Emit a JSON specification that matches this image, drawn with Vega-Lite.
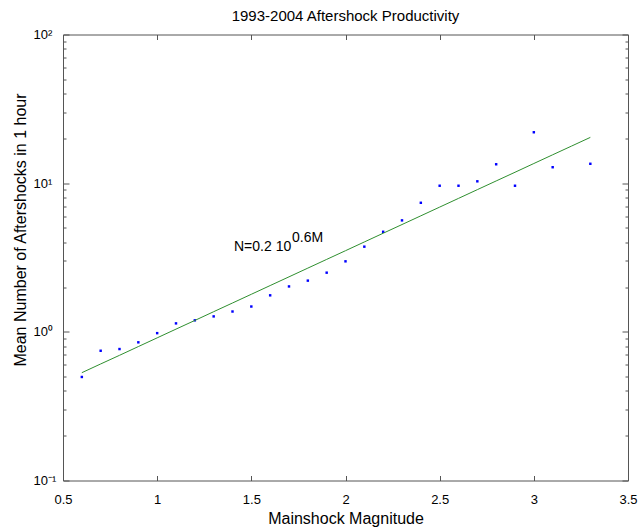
{
  "$schema": "https://vega.github.io/schema/vega-lite/v6.json",
  "width": 565,
  "height": 446,
  "autosize": {"type": "none"},
  "padding": {"left": 63, "top": 34.5, "right": 11, "bottom": 46.5},
  "background": "white",
  "config": {
    "view": {"stroke": null},
    "font": "Liberation Sans",
    "axis": {"domainColor": "#555555", "tickColor": "#555555", "labelColor": "black", "titleColor": "black", "labelFont": "Liberation Sans", "titleFont": "Liberation Sans", "grid": false}
  },
  "title": {"text": "1993-2004 Aftershock Productivity", "fontSize": 15, "fontWeight": "normal", "font": "Liberation Sans", "color": "black", "baseline": "alphabetic", "offset": 12, "dy": 19},
  "datasets": {
    "obs": [
      {"M": 0.6, "N": 0.497}, {"M": 0.7, "N": 0.746}, {"M": 0.8, "N": 0.766}, {"M": 0.9, "N": 0.85},
      {"M": 1.0, "N": 0.98}, {"M": 1.1, "N": 1.14}, {"M": 1.2, "N": 1.195}, {"M": 1.3, "N": 1.27},
      {"M": 1.4, "N": 1.37}, {"M": 1.5, "N": 1.48}, {"M": 1.6, "N": 1.76}, {"M": 1.7, "N": 2.02},
      {"M": 1.8, "N": 2.21}, {"M": 1.9, "N": 2.5}, {"M": 2.0, "N": 2.98}, {"M": 2.1, "N": 3.74},
      {"M": 2.2, "N": 4.71}, {"M": 2.3, "N": 5.62}, {"M": 2.4, "N": 7.38}, {"M": 2.5, "N": 9.61},
      {"M": 2.6, "N": 9.61}, {"M": 2.7, "N": 10.29}, {"M": 2.8, "N": 13.4}, {"M": 2.9, "N": 9.61},
      {"M": 3.0, "N": 22.0}, {"M": 3.1, "N": 12.8}, {"M": 3.3, "N": 13.5}
    ],
    "fit": [
      {"M": 0.6, "N": 0.531}, {"M": 0.7, "N": 0.608}, {"M": 0.8, "N": 0.695}, {"M": 0.9, "N": 0.796},
      {"M": 1.0, "N": 0.911}, {"M": 1.1, "N": 1.043}, {"M": 1.2, "N": 1.193}, {"M": 1.3, "N": 1.366},
      {"M": 1.4, "N": 1.563}, {"M": 1.5, "N": 1.789}, {"M": 1.6, "N": 2.048}, {"M": 1.7, "N": 2.344},
      {"M": 1.8, "N": 2.683}, {"M": 1.9, "N": 3.071}, {"M": 2.0, "N": 3.514}, {"M": 2.1, "N": 4.023},
      {"M": 2.2, "N": 4.604}, {"M": 2.3, "N": 5.269}, {"M": 2.4, "N": 6.031}, {"M": 2.5, "N": 6.902},
      {"M": 2.6, "N": 7.9}, {"M": 2.7, "N": 9.044}, {"M": 2.8, "N": 10.35}, {"M": 2.9, "N": 11.84},
      {"M": 3.0, "N": 13.56}, {"M": 3.1, "N": 15.52}, {"M": 3.2, "N": 17.76}, {"M": 3.3, "N": 20.32}
    ],
    "ann": [{"M": 1.408, "N": 3.5, "label": "N=0.2 10"}],
    "annsup": [{"M": 1.716, "N": 4.05, "label": "0.6M"}]
  },
  "resolve": {"axis": {"x": "independent", "y": "independent"}},
  "layer": [
    {
      "data": {"name": "obs"},
      "mark": {"type": "point", "shape": "square", "filled": true, "size": 6, "color": "#0000ff", "opacity": 1},
      "encoding": {
        "x": {"field": "M", "type": "quantitative", "scale": {"domain": [0.5, 3.5], "nice": false, "zero": false},
          "axis": {"orient": "bottom", "values": [0.5, 1, 1.5, 2, 2.5, 3, 3.5], "format": "~g", "labelFlush": false, "labelOverlap": false,
            "tickSize": -5, "labelPadding": 18, "labelFontSize": 13, "title": "Mainshock Magnitude", "titleFontSize": 16, "titleFontWeight": "normal", "titlePadding": 4}},
        "y": {"field": "N", "type": "quantitative", "scale": {"type": "log", "domain": [0.1, 100], "nice": false},
          "axis": {"orient": "left", "values": [0.1, 0.2, 0.3, 0.4, 0.5, 0.6, 0.7, 0.8, 0.9, 1, 2, 3, 4, 5, 6, 7, 8, 9, 10, 20, 30, 40, 50, 60, 70, 80, 90, 100],
            "labelExpr": "datum.value == 100 ? '10²' : datum.value == 10 ? '10¹' : datum.value == 1 ? '10⁰' : datum.value == 0.1 ? '10⁻¹' : ''",
            "labelOverlap": false, "labelFlush": false, "labelAlign": "left", "labelBaseline": "middle", "labelDy": 1,
            "tickSize": {"condition": {"test": "datum.value == 100 || datum.value == 10 || datum.value == 1 || datum.value == 0.1", "value": -6}, "value": -3},
            "labelPadding": 36, "labelFontSize": 13,
            "title": "Mean Number of Aftershocks in 1 hour", "titleFontSize": 16, "titleFontWeight": "normal", "titlePadding": 2, "titleY": 195}}
      }
    },
    {
      "data": {"name": "fit"},
      "mark": {"type": "line", "color": "#2f8f2f", "strokeWidth": 1},
      "encoding": {
        "x": {"field": "M", "type": "quantitative",
          "axis": {"orient": "top", "values": [0.5, 1, 1.5, 2, 2.5, 3, 3.5], "labels": false, "title": null, "tickSize": -5}},
        "y": {"field": "N", "type": "quantitative",
          "axis": {"orient": "right", "values": [0.1, 0.2, 0.3, 0.4, 0.5, 0.6, 0.7, 0.8, 0.9, 1, 2, 3, 4, 5, 6, 7, 8, 9, 10, 20, 30, 40, 50, 60, 70, 80, 90, 100], "labels": false, "title": null,
            "tickSize": {"condition": {"test": "datum.value == 100 || datum.value == 10 || datum.value == 1 || datum.value == 0.1", "value": -6}, "value": -3}}}
      }
    },
    {
      "data": {"name": "ann"},
      "mark": {"type": "text", "align": "left", "baseline": "alphabetic", "fontSize": 14, "color": "black", "font": "Liberation Sans"},
      "encoding": {
        "x": {"field": "M", "type": "quantitative", "axis": null},
        "y": {"field": "N", "type": "quantitative", "axis": null},
        "text": {"field": "label"}
      }
    },
    {
      "data": {"name": "annsup"},
      "mark": {"type": "text", "align": "left", "baseline": "alphabetic", "fontSize": 14, "color": "black", "font": "Liberation Sans"},
      "encoding": {
        "x": {"field": "M", "type": "quantitative", "axis": null},
        "y": {"field": "N", "type": "quantitative", "axis": null},
        "text": {"field": "label"}
      }
    }
  ]
}
